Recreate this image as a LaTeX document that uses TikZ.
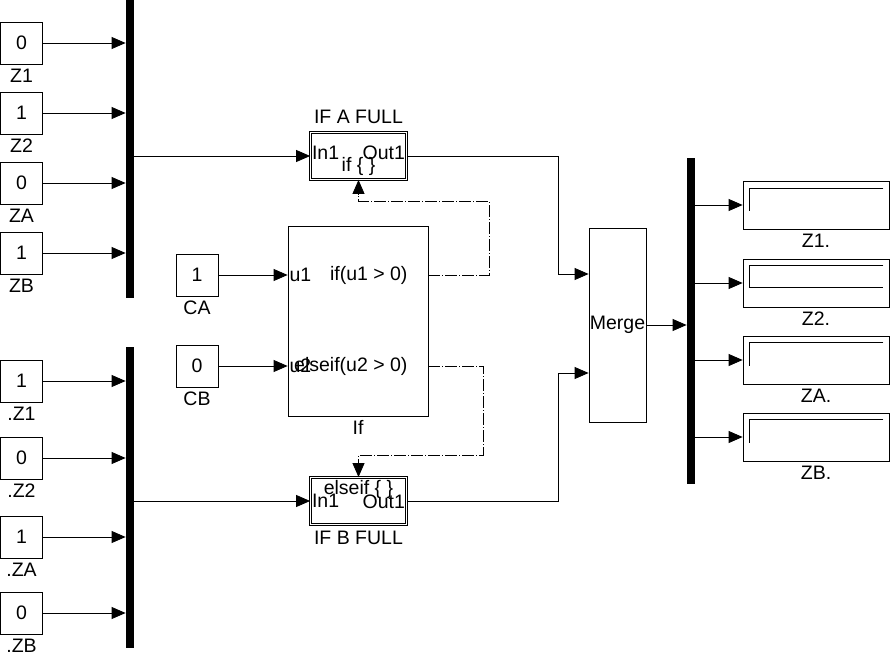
\documentclass[tikz,border=0pt]{standalone}
\usepackage{fontspec}
\setmainfont{Liberation Sans}
\usetikzlibrary{arrows.meta}

\tikzset{
  const/.style={draw,minimum width=42pt,minimum height=42pt,inner sep=0pt},
  bus/.style={fill=black,minimum width=8pt,inner sep=0pt},
  blk/.style={draw,inner sep=0pt},
  subsys/.style={draw,double,double distance=1pt,minimum width=96pt,minimum height=47pt,inner sep=0pt},
  disp/.style={draw,minimum width=146pt,minimum height=48pt,inner sep=0pt},
  port/.style={inner sep=1.5pt},
  sig/.style={-{Triangle[length=14pt,width=12pt]}},
  trig/.style={sig,dash pattern=on 12pt off 2pt on 1pt off 2pt}
}

\begin{document}
\begin{tikzpicture}[x=1pt,y=-1pt,line width=0.8pt,font=\fontsize{19.5}{23}\selectfont,
  every label/.style={inner sep=0pt},label distance=4pt]
\useasboundingbox (0,0) rectangle (891,655);
\node[const,label=below:Z1] (z1) at (21.5,43) {0};
\node[const,label=below:Z2] (z2) at (21.5,113) {1};
\node[const,label=below:ZA] (za) at (21.5,183) {0};
\node[const,label=below:ZB] (zb) at (21.5,253) {1};
\node[const,label=below:.Z1] (w1) at (21.5,381) {1};
\node[const,label=below:.Z2] (w2) at (21.5,458) {0};
\node[const,label=below:.ZA] (wa) at (21.5,537) {1};
\node[const,label=below:.ZB] (wb) at (21.5,613) {0};
\node[bus,minimum height=298pt] (muxA) at (130,149) {};
\node[bus,minimum height=301pt] (muxB) at (130,497.5) {};

\node[const,label=below:CA] (ca) at (197,275) {1};
\node[const,label=below:CB] (cb) at (197,366) {0};
\node[blk,minimum width=140pt,minimum height=190pt,label=below:If] (ifblk) at (358,321) {};
\node[port,anchor=west] (u1) at (ifblk.west |- ca) {u1};
\node[port,anchor=west] (u2) at (ifblk.west |- cb) {u2};
\node[port,anchor=east] (c1) at ([xshift=-19pt]ifblk.east |- ca) {if(u1 > 0)};
\node[port,anchor=east] (c2) at ([xshift=-19pt]ifblk.east |- cb) {elseif(u2 > 0)};

\node[subsys,label={[label distance=8pt]above:IF A FULL}] (ifa) at (358.5,156) {};
\node[port,anchor=west] (ina) at ([yshift=3pt]ifa.west) {In1};
\node[port,anchor=east] (outa) at ([yshift=3pt]ifa.east) {Out1};
\node[inner sep=0pt] (acta) at ([yshift=-10pt]ifa.center) {if \{ \}};
\node[subsys,label={[label distance=6pt]below:IF B FULL}] (ifb) at (358.5,501) {};
\node[port,anchor=west] (inb) at ([yshift=0pt]ifb.west) {In1};
\node[port,anchor=east] (outb) at ([yshift=-1pt]ifb.east) {Out1};
\node[inner sep=0pt] (actb) at ([yshift=12pt]ifb.center) {elseif \{ \}};

\node[blk,minimum width=57pt,minimum height=194pt] (merge) at (617.5,325) {Merge};
\node[bus,minimum height=326pt] (demux) at (691,321) {};
\node[disp,label=below:Z1.] (d1) at (816,205) {};
\node[disp,label=below:Z2.] (d2) at (816,283) {};
\node[disp,label=below:ZA.] (da) at (816,360) {};
\node[disp,label=below:ZB.] (db) at (816,437) {};
\draw ([shift={(-6,8)}]d1.north east) -- ([shift={(7,8)}]d1.north west) -- ++(0,22);
\draw ([shift={(-6,7)}]d2.north east) -- ([shift={(7,7)}]d2.north west) -- ++(0,22) -- ++(133,0);
\draw ([shift={(-6,7)}]da.north east) -- ([shift={(7,7)}]da.north west) -- ++(0,23);
\draw ([shift={(-6,7)}]db.north east) -- ([shift={(7,7)}]db.north west) -- ++(0,23);

\path[sig]
(z1) edge (z1 -| muxA.west)
(z2) edge (z2 -| muxA.west)
(za) edge (za -| muxA.west)
(zb) edge (zb -| muxA.west)
(w1) edge (w1 -| muxB.west)
(w2) edge (w2 -| muxB.west)
(wa) edge (wa -| muxB.west)
(wb) edge (wb -| muxB.west)
(muxA.east |- ifa.west) edge (ifa.west)
(muxB.east |- ifb.west) edge (ifb.west)
(ca) edge (ca -| ifblk.west)
(cb) edge (cb -| ifblk.west)
(merge) edge (merge -| demux.west)
(demux.east |- d1) edge (d1)
(demux.east |- d2) edge (d2)
(demux.east |- da) edge (da)
(demux.east |- db) edge (db);

\coordinate (ja) at (558,274);
\coordinate (jb) at (558,373);
\draw[sig] (ifa.east) -| (ja) -- (ja -| merge.west);
\draw[sig] (ifb.east) -| (jb) -- (jb -| merge.west);

\coordinate (ta) at (489,201);
\coordinate (tb) at (483,455);
\draw[trig] (c1 -| ifblk.east) -| (ta) -| (ifa.south);
\draw[trig] (c2 -| ifblk.east) -| (tb) -| (ifb.north);
\end{tikzpicture}
\end{document}
